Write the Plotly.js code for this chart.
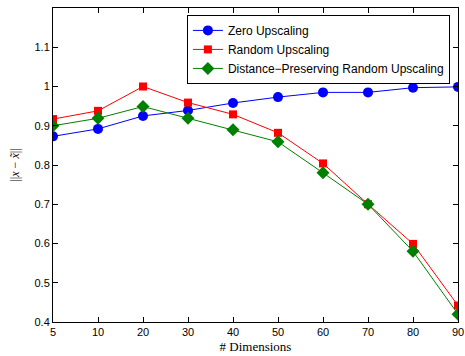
<!DOCTYPE html>
<html><head><meta charset="utf-8">
<script src="https://cdn.plot.ly/plotly-3.0.1.min.js"></script>
<style>html,body{margin:0;padding:0;background:#fff}#chart{width:465px;height:356px}</style>
</head><body><div id="chart"></div>
<script>
const dims = ["5","10","20","30","40","50","60","70","80","90"];
const zeroUp = [0.873,0.892,0.925,0.939,0.958,0.973,0.985,0.985,0.997,0.999];
const randomUp = [0.917,0.938,1.0,0.959,0.929,0.882,0.804,0.700,0.599,0.442];
const distUp = [0.900,0.919,0.949,0.919,0.890,0.859,0.780,0.700,0.580,0.420];
const yTicks = [0.4,0.5,0.6,0.7,0.8,0.9,1.0,1.1];

const mk = (name, y, color, symbol, size) => ({
  x: dims, y: y, name: name, type: 'scatter', mode: 'lines+markers',
  line: {color: color, width: 1},
  marker: {color: color, symbol: symbol, size: size}
});
const traces = [
  mk('Zero Upscaling', zeroUp, '#0000ff', 'circle', 10),
  mk('Random Upscaling', randomUp, '#ff0000', 'square', 8),
  mk('Distance\u2212Preserving Random Upscaling', distUp, '#008000', 'diamond', 10)
];
const axisCommon = {
  showline: true, linecolor: '#000', linewidth: 1, mirror: 'ticks',
  ticks: 'inside', ticklen: 5, tickcolor: '#000', showgrid: false, zeroline: false,
  tickfont: {family: 'Liberation Sans, Arial', size: 11, color: '#000'}
};
const layout = {
  width: 465, height: 356,
  margin: {l: 53, r: 7, t: 8, b: 34},
  paper_bgcolor: '#fff', plot_bgcolor: '#fff',
  showlegend: true,
  legend: {x: 0.98, xanchor: 'right', y: 0.978, yanchor: 'top',
    bordercolor: '#000', borderwidth: 1, bgcolor: '#fff',
    font: {family: 'Liberation Sans, Arial', size: 12, color: '#000'},
    tracegroupgap: 0, itemwidth: 30},
  xaxis: Object.assign({}, axisCommon, {type: 'category', range: [0, 9],
    title: {text: '# Dimensions', font: {family: 'Liberation Serif, Times New Roman', size: 13, color: '#000'}, standoff: 4}}),
  yaxis: Object.assign({}, axisCommon, {range: [0.4, 1.2], tickvals: yTicks,
    ticktext: yTicks.map(v => String(+v.toFixed(1))),
    title: {text: '||<i>x</i> \u2212 <i>x\u0303</i>||', font: {family: 'Liberation Serif, Times New Roman', size: 12, color: '#000'}, standoff: 12}})
};
Plotly.newPlot('chart', traces, layout, {displayModeBar: false, staticPlot: true});
</script></body></html>
